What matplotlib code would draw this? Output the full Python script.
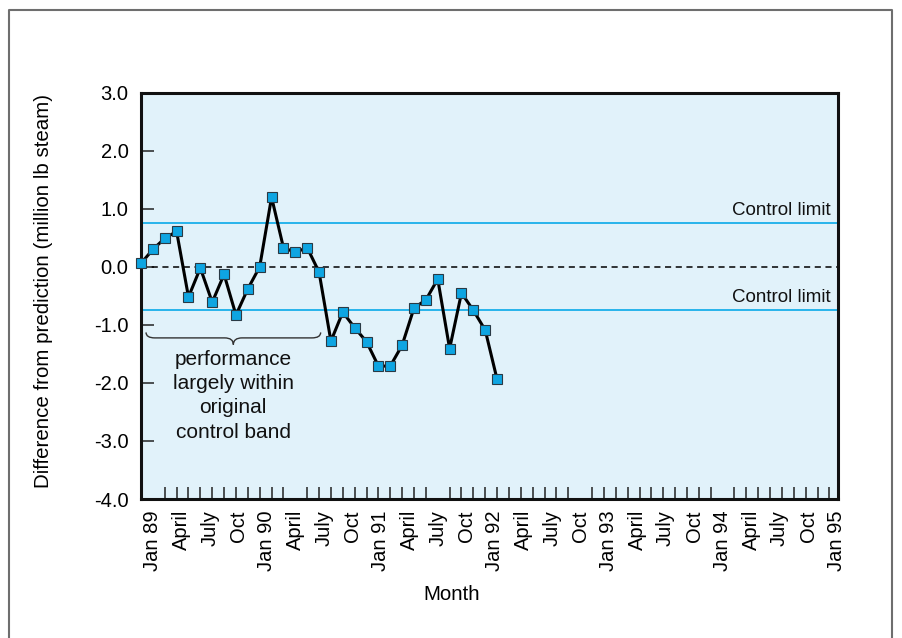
import numpy as np
import matplotlib
matplotlib.use("Agg")
import matplotlib.pyplot as plt
from matplotlib.path import Path
from matplotlib.patches import PathPatch
from matplotlib.lines import Line2D

plt.rcParams["font.family"] = ["Liberation Sans", "DejaVu Sans"]

# Readings taken every 1.25 months, starting just before Jan 89
deviation = [0.06, 0.30, 0.49, 0.61, -0.52, -0.02, -0.61, -0.13, -0.83, -0.38,
             0.00, 1.20, 0.33, 0.25, 0.33, -0.09, -1.28, -0.78, -1.05, -1.29,
             -1.71, -1.71, -1.35, -0.71, -0.57, -0.21, -1.41, -0.45, -0.75,
             -1.09, -1.94]
sample_interval = 1.25          # months between readings
first_reading = -1.25           # months relative to Jan 89

control_limit = 0.75

month_ticks = list(range(0, 73, 3))
month_labels = ["Jan 89", "April", "July", "Oct",
                "Jan 90", "April", "July", "Oct",
                "Jan 91", "April", "July", "Oct",
                "Jan 92", "April", "July", "Oct",
                "Jan 93", "April", "July", "Oct",
                "Jan 94", "April", "July", "Oct",
                "Jan 95"]
y_ticks = [-4, -3, -2, -1, 0, 1, 2, 3]
y_labels = ["-4.0", "-3.0", "-2.0", "-1.0", "0.0", "1.0", "2.0", "3.0"]

W, H = 902, 638
fig = plt.figure(figsize=(W / 100, H / 100), dpi=100)
fig.patch.set_facecolor("white")

left, right, top, bottom = 141, 838, 92.7, 499
ax = fig.add_axes([left / W, 1 - bottom / H, (right - left) / W, (bottom - top) / H])
ax.set_facecolor("#E1F2FA")

x = first_reading + sample_interval * np.arange(len(deviation))

# reference lines
ax.axhline(0, color="black", lw=1.1, ls=(0, (4, 3)), zorder=2)
for lim in (control_limit, -control_limit):
    ax.axhline(lim, color="#19AFEA", lw=1.3, zorder=2)
    ax.annotate("Control limit", xy=(1, lim), xycoords=("axes fraction", "data"),
                xytext=(-5, 3), textcoords="offset points", ha="right", va="bottom",
                fontsize=13.5, color="#111111")

ax.plot(x, deviation, color="black", lw=2.2, zorder=3, clip_on=False,
        marker="s", markersize=7.2, markerfacecolor="#0EA5E2",
        markeredgecolor="#2A3A44", markeredgewidth=0.8)

ax.set_xlim(first_reading, 72.15)
ax.set_ylim(-4, 3)

ax.set_xticks(month_ticks)
ax.set_xticklabels(month_labels, rotation=90, fontsize=14.5)
minor_x = first_reading + sample_interval * np.arange(1, 59)
ax.set_xticks(minor_x, minor=True)
ax.tick_params(axis="x", which="major", length=0, pad=8)
ax.tick_params(axis="x", which="minor", direction="in", length=9, width=1.1, color="#222222")

ax.set_yticks(y_ticks)
ax.set_yticklabels(y_labels, fontsize=14.5)
ax.tick_params(axis="y", which="major", direction="in", length=9, width=1.1,
               color="#222222", pad=9)

for s in ax.spines.values():
    s.set_linewidth(2.2)
    s.set_color("#111111")

ax.set_ylabel("Difference from prediction (million lb steam)", fontsize=14.8)
ax.yaxis.set_label_coords(-0.126, 0.513)

fig.text(452 / W, 1 - 595 / H, "Month", ha="center", va="center", fontsize=14.8)


def brace(ax, x0, x1, y_top, depth, **kw):
    """Horizontal curly brace opening upward, pointing down at the middle."""
    xm = 0.5 * (x0 + x1)
    y_mid = y_top - depth * 0.45
    y_tip = y_top - depth
    dx = (x1 - x0) * 0.05
    verts = [(x0, y_top), (x0, y_mid), (x0 + dx, y_mid),
             (xm - dx, y_mid), (xm, y_mid), (xm, y_tip),
             (xm, y_mid), (xm + dx, y_mid),
             (x1 - dx, y_mid), (x1, y_mid), (x1, y_top)]
    codes = [Path.MOVETO, Path.CURVE3, Path.CURVE3,
             Path.LINETO, Path.CURVE3, Path.CURVE3,
             Path.CURVE3, Path.CURVE3,
             Path.LINETO, Path.CURVE3, Path.CURVE3]
    ax.add_patch(PathPatch(Path(verts, codes), fill=False, **kw))


brace(ax, -0.72, 17.67, -1.13, 0.21, lw=1.0, edgecolor="#333333", zorder=2)

ax.text(8.45, -2.22, "performance\nlargely within\noriginal\ncontrol band",
        ha="center", va="center", fontsize=15, linespacing=1.35, color="#111111")

# outer frame (open at the bottom)
fc = "#6E6E6E"
xl, xr, yt = 9 / W, 892 / W, 1 - 10 / H
fig.add_artist(Line2D([xl, xl, xr, xr], [-0.01, yt, yt, -0.01],
                      transform=fig.transFigure, color=fc, lw=1.5))

fig.savefig("out.png", dpi=100)
